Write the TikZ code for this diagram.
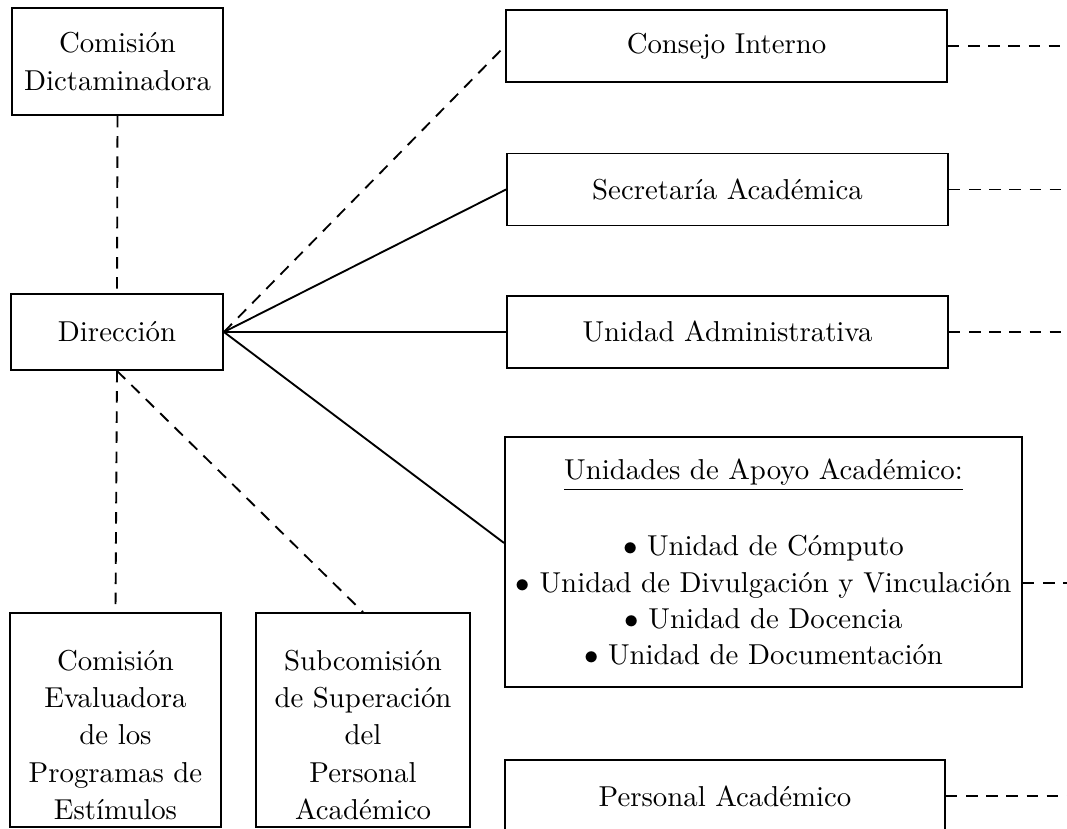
\documentclass[tikz,border=0pt]{standalone}
\newcommand\pxu{0.3472pt}
\begin{document}
\begin{tikzpicture}[x=0.3472pt,y=-0.3472pt,
  box/.style={draw, line width=0.65pt, inner sep=0pt, align=center, font=\fontsize{10}{13}\selectfont},
  txt/.style={inner sep=0pt, align=center, font=\fontsize{10}{13}\selectfont},
  dashline/.style={line width=0.65pt, dash pattern=on 4pt off 3pt},
  solidline/.style={line width=0.65pt}]
\useasboundingbox (0,0) rectangle (1067,829);
\coordinate (re) at (1067,0);
% left column
\node[box, minimum width=211*\pxu, minimum height=107*\pxu] (cd) at (117.5,61.5) {Comisión\\Dictaminadora};
\node[box, minimum width=212*\pxu, minimum height=76*\pxu] (dir) at (117,332) {Dirección};
\node[box, minimum width=211*\pxu, minimum height=214*\pxu] (ce) at (115.5,720) {};
\node[txt] (ceT) at (115.5,735) {Comisión\\Evaluadora\\de los\\Programas de\\Estímulos};
\node[box, minimum width=214*\pxu, minimum height=214*\pxu] (sc) at (363,720) {};
\node[txt] (scT) at (363,735) {Subcomisión\\de Superación\\del\\Personal\\Académico};
% right column
\node[box, minimum width=441*\pxu, minimum height=72*\pxu] (ci) at (726.5,46) {Consejo Interno};
\node[box, minimum width=441*\pxu, minimum height=72*\pxu] (sa) at (727.5,189.5) {Secretaría Académica};
\node[box, minimum width=441*\pxu, minimum height=72*\pxu] (ua) at (727.5,332) {Unidad Administrativa};
\node[box, minimum width=517*\pxu, minimum height=250*\pxu, font=\fontsize{10}{12.6}\selectfont] (uaa) at (763.5,562) {\underline{Unidades de Apoyo Académico:}\\[14pt]
$\bullet$ Unidad de Cómputo\\
$\bullet$ Unidad de Divulgación y Vinculación\\
$\bullet$ Unidad de Docencia\\
$\bullet$ Unidad de Documentación};
\node[box, minimum width=440*\pxu, minimum height=72*\pxu] (pa) at (725,796) {Personal Académico};
% connectors
\draw[dashline] (cd.south) -- (dir.north);
\draw[dashline] (dir.south) -- (ce.north);
\draw[dashline] (dir.south) -- (sc.north);
\draw[dashline] (dir.east) -- (ci.west);
\draw[solidline] (dir.east) -- (sa.west);
\draw[solidline] (dir.east) -- (ua.west);
\draw[solidline] (dir.east) -- ([yshift=6.6pt]uaa.west);
\draw[dashline] (ci.east) -- (ci.east -| re);
\draw[dashline] (sa.east) -- (sa.east -| re);
\draw[dashline] (ua.east) -- (ua.east -| re);
\draw[dashline] ([yshift=-7.3pt]uaa.east) -- ([yshift=-7.3pt]uaa.east -| re);
\draw[dashline] (pa.east) -- (pa.east -| re);
\end{tikzpicture}
\end{document}
